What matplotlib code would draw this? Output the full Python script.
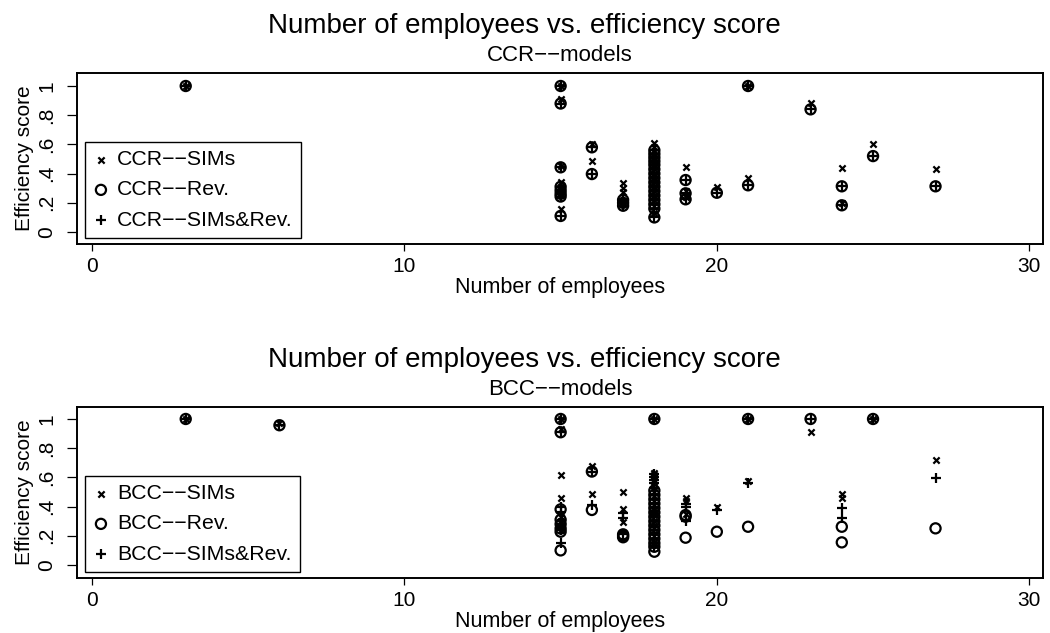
import matplotlib
matplotlib.use("Agg")
import matplotlib.pyplot as plt

plt.rcParams["font.family"] = ["Liberation Sans", "DejaVu Sans"]

# CCR model scores by firm
ccr_emp = [3,
           15, 15, 15, 15, 15, 15, 15, 15,
           16, 16,
           17, 17, 17,
           18, 18, 18, 18, 18, 18, 18, 18, 18, 18, 18, 18, 18, 18, 18, 18,
           19, 19, 19,
           20,
           21, 21,
           23,
           24, 24,
           25,
           27]
ccr_sims = [1.0,
            1.0, 0.91, 0.45, 0.345, 0.30, 0.28, 0.26, 0.157,
            0.60, 0.486,
            0.333, 0.303, 0.272,
            0.607, 0.58, 0.55, 0.52, 0.49, 0.46, 0.43, 0.40, 0.37, 0.34, 0.31, 0.28, 0.25, 0.22, 0.18, 0.13,
            0.447, 0.28, 0.24,
            0.31,
            1.0, 0.368,
            0.886,
            0.436, 0.20,
            0.60,
            0.434]
ccr_rev = [1.0,
           1.0, 0.88, 0.443, 0.31, 0.285, 0.262, 0.243, 0.11,
           0.58, 0.397,
           0.22, 0.20, 0.18,
           0.56, 0.535, 0.51, 0.485, 0.46, 0.43, 0.40, 0.37, 0.34, 0.31, 0.28, 0.25, 0.22, 0.19, 0.16, 0.10,
           0.356, 0.265, 0.224,
           0.269,
           1.0, 0.32,
           0.84,
           0.313, 0.183,
           0.52,
           0.313]
ccr_both = list(ccr_rev)

# BCC model scores by firm
bcc_emp = [3,
           6,
           15, 15, 15, 15, 15, 15, 15, 15,
           16, 16,
           17, 17, 17,
           18, 18, 18, 18, 18, 18, 18, 18, 18, 18, 18, 18, 18, 18, 18, 18,
           19, 19, 19,
           20,
           21, 21,
           23,
           24, 24,
           25,
           27]
bcc_sims = [1.0,
            0.97,
            1.0, 0.93, 0.616, 0.457, 0.33, 0.30, 0.27, 0.24,
            0.678, 0.484,
            0.50, 0.384, 0.292,
            1.0, 0.632, 0.615, 0.60, 0.585, 0.57, 0.50, 0.47, 0.44, 0.41, 0.38, 0.35, 0.30, 0.25, 0.20, 0.16,
            0.457, 0.44, 0.35,
            0.40,
            1.0, 0.575,
            0.909,
            0.484, 0.461,
            1.0,
            0.717]
bcc_rev = [1.0,
           0.957,
           1.0, 0.909, 0.381, 0.31, 0.28, 0.25, 0.228, 0.10,
           0.64, 0.377,
           0.21, 0.20, 0.19,
           1.0, 0.51, 0.48, 0.45, 0.42, 0.39, 0.36, 0.33, 0.30, 0.27, 0.24, 0.21, 0.18, 0.15, 0.125, 0.091,
           0.342, 0.331, 0.187,
           0.228,
           1.0, 0.262,
           1.0,
           0.262, 0.155,
           1.0,
           0.251]
bcc_both = [1.0,
            0.96,
            1.0, 0.909, 0.40, 0.36, 0.30, 0.27, 0.24, 0.153,
            0.64, 0.41,
            0.354, 0.32, 0.21,
            1.0, 0.62, 0.60, 0.58, 0.56, 0.53, 0.45, 0.42, 0.40, 0.37, 0.34, 0.30, 0.26, 0.22, 0.18, 0.13,
            0.42, 0.40, 0.30,
            0.377,
            1.0, 0.559,
            1.0,
            0.388, 0.324,
            1.0,
            0.594]

yticks = [0, 0.2, 0.4, 0.6, 0.8, 1]
ytick_labels = ["0", ".2", ".4", ".6", ".8", "1"]
xticks = [0, 10, 20, 30]

W, H = 1050, 633
fig = plt.figure(figsize=(W / 100, H / 100), dpi=100)


def panel(top_px, emp, sims, rev, both, model, ylim):
    ax = fig.add_axes([77 / W, 1 - (top_px + 171) / H, 966 / W, 171 / H])
    ax.scatter(emp, sims, marker="x", s=4.5 ** 2, color="black", linewidths=1.6,
               label=model + "\u2212\u2212SIMs", zorder=3)
    ax.scatter(emp, rev, marker="o", s=7.3 ** 2, facecolors="none", edgecolors="black",
               linewidths=1.6, label=model + "\u2212\u2212Rev.", zorder=3)
    ax.scatter(emp, both, marker="+", s=7.5 ** 2, color="black", linewidths=1.6,
               label=model + "\u2212\u2212SIMs&Rev.", zorder=3)
    ax.set_xlim(-0.48, 30.44)
    ax.set_ylim(*ylim)
    ax.set_xticks(xticks)
    ax.set_yticks(yticks)
    ax.set_yticklabels(ytick_labels, rotation=90, va="center")
    ax.tick_params(axis="x", labelsize=15, length=5, width=0.9, pad=4)
    ax.tick_params(axis="y", labelsize=15, length=7, width=0.9, pad=8)
    for s in ax.spines.values():
        s.set_linewidth(1.4)
    ax.set_xlabel("Number of employees", fontsize=15.5, labelpad=1)
    ax.set_ylabel("Efficiency score", fontsize=15, labelpad=2)

    leg = ax.legend(loc="lower left", bbox_to_anchor=(8 / 966, 6 / 171), borderaxespad=0,
                    fontsize=15.3, frameon=True, fancybox=False, edgecolor="black",
                    handlelength=0.7, handletextpad=0.4, labelspacing=0.52,
                    borderpad=0.4)
    leg.get_frame().set_linewidth(1.0)
    leg.get_frame().set_alpha(1)

    fig.text(524 / W, 1 - (top_px - 40) / H, "Number of employees vs. efficiency score",
             ha="center", va="baseline", fontsize=20)
    fig.text(560 / W, 1 - (top_px - 12) / H, model + "\u2212\u2212models",
             ha="center", va="baseline", fontsize=16)
    return ax


panel(73, ccr_emp, ccr_sims, ccr_rev, ccr_both, "CCR", (-0.082, 1.089))
panel(407, bcc_emp, bcc_sims, bcc_rev, bcc_both, "BCC", (-0.089, 1.082))

fig.savefig("out.png", dpi=100)
